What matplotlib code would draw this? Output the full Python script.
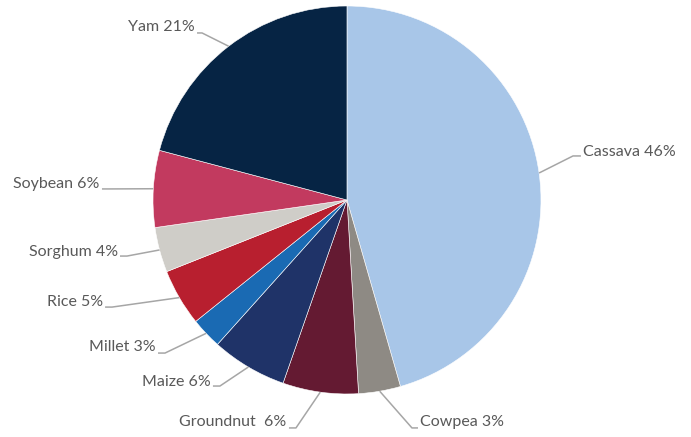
import matplotlib.pyplot as plt
import numpy as np

crops = ['Cassava', 'Cowpea', 'Groundnut', 'Maize', 'Millet', 'Rice', 'Sorghum', 'Soybean', 'Yam']
shares = [45.6, 3.5, 6.3, 6.3, 2.6, 4.75, 3.75, 6.4, 20.9]
labels = ['Cassava 46%', 'Cowpea 3%', 'Groundnut  6%', 'Maize 6%', 'Millet 3%',
          'Rice 5%', 'Sorghum 4%', 'Soybean 6%', 'Yam 21%']
colors = ['#a8c6e8', '#8e8a84', '#641a32', '#1f3368', '#1a6ab3',
          '#b81f2f', '#cfcdc8', '#c23a5f', '#062444']

# leader line layout (axes data units, radius = 1): elbow x, line end x, line y, text y
layout = {
    'Cassava':   (1.165, 1.206, 0.227, 0.247, 'left'),
    'Cowpea':    (0.335, 0.366, -1.175, -1.144, 'left'),
    'Groundnut': (-0.263, -0.299, -1.175, -1.144, 'right'),
    'Maize':     (-0.655, -0.691, -0.959, -0.938, 'right'),
    'Millet':    (-0.938, -0.974, -0.789, -0.758, 'right'),
    'Rice':      (-1.211, -1.247, -0.552, -0.526, 'right'),
    'Sorghum':   (-1.134, -1.170, -0.289, -0.268, 'right'),
    'Soybean':   (-1.222, -1.263, 0.057, 0.082, 'right'),
    'Yam':       (-0.747, -0.773, 0.861, 0.892, 'right'),
}

plt.rcParams['font.family'] = ['Lato', 'DejaVu Sans']

fig = plt.figure(figsize=(6.91, 4.37), dpi=100)
ax = fig.add_axes([0.2214, 0.0984, 0.5615, 0.8879])

wedges, _ = ax.pie(shares, colors=colors, startangle=90, counterclock=False, radius=1,
                   wedgeprops=dict(edgecolor='white', linewidth=0.4))
ax.set_xlim(-1, 1)
ax.set_ylim(-1, 1)
ax.set_aspect('equal')
ax.axis('off')

for w, crop, lab in zip(wedges, crops, labels):
    mid = np.deg2rad((w.theta1 + w.theta2) / 2)
    ex, ey = np.cos(mid), np.sin(mid)
    elbow_x, end_x, line_y, text_y, ha = layout[crop]
    ax.plot([ex, elbow_x, end_x], [ey, line_y, line_y], color='#a6a6a6', lw=1.1,
            clip_on=False, solid_capstyle='butt')
    tx = end_x + (0.012 if ha == 'left' else -0.012)
    ax.text(tx, text_y, lab, ha=ha, va='center', fontsize=11.5, color='#595959',
            fontweight='normal')

fig.savefig('out.png', dpi=100)
